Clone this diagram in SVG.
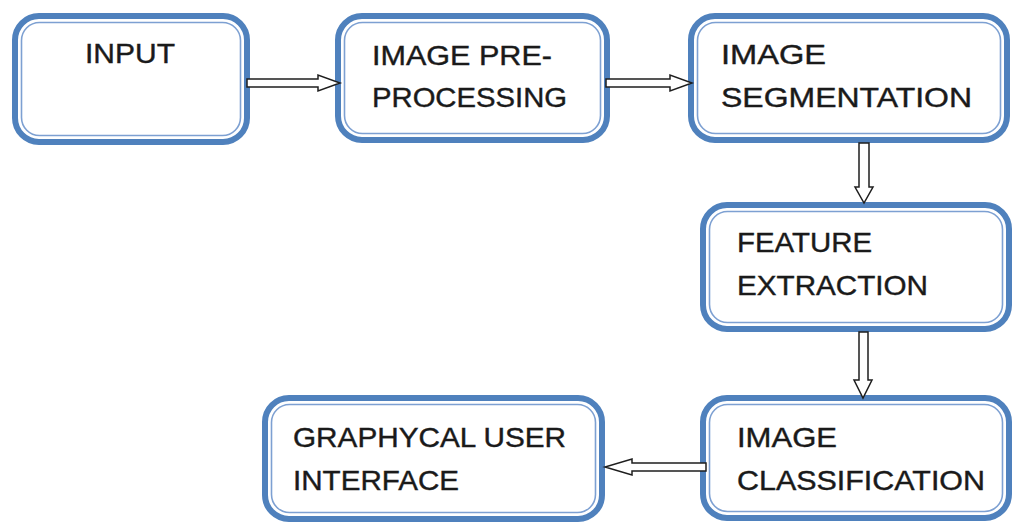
<svg xmlns="http://www.w3.org/2000/svg" width="1013" height="523" viewBox="0 0 1013 523">
<style>
.o{fill:#fff;stroke:#4f81bd;stroke-width:6}
.i{fill:none;stroke:#7da0d2;stroke-width:1.6}
.t{font-family:"Liberation Sans",Arial,sans-serif;font-size:28px;fill:#1a1a1a;stroke:#1a1a1a;stroke-width:0.4}
.a{fill:#fff;stroke:#1e1e1e;stroke-width:1.5;stroke-linejoin:miter}
</style>
<rect width="1013" height="523" fill="#fff"/>
<g id="input">
<rect class="o" x="15" y="16" width="232" height="126" rx="24"/>
<rect class="i" x="21.5" y="22.5" width="219" height="113" rx="18"/>
<text class="t" x="85" y="63" textLength="90" lengthAdjust="spacingAndGlyphs">INPUT</text>
</g>
<g id="preprocessing">
<rect class="o" x="338" y="16" width="269" height="124" rx="24"/>
<rect class="i" x="344.5" y="22.5" width="256" height="111" rx="18"/>
<text class="t" x="372" y="65" textLength="180" lengthAdjust="spacingAndGlyphs">IMAGE PRE-</text>
<text class="t" x="372" y="107" textLength="195" lengthAdjust="spacingAndGlyphs">PROCESSING</text>
</g>
<g id="segmentation">
<rect class="o" x="691" y="16" width="316" height="124" rx="24"/>
<rect class="i" x="697.5" y="22.5" width="303" height="111" rx="18"/>
<text class="t" x="721" y="64" textLength="105" lengthAdjust="spacingAndGlyphs">IMAGE</text>
<text class="t" x="721" y="107" textLength="251" lengthAdjust="spacingAndGlyphs">SEGMENTATION</text>
</g>
<g id="feature">
<rect class="o" x="703" y="205" width="306" height="124" rx="24"/>
<rect class="i" x="709.5" y="211.5" width="293" height="111" rx="18"/>
<text class="t" x="737" y="252" textLength="135" lengthAdjust="spacingAndGlyphs">FEATURE</text>
<text class="t" x="737" y="295" textLength="191" lengthAdjust="spacingAndGlyphs">EXTRACTION</text>
</g>
<g id="classification">
<rect class="o" x="703" y="398" width="306" height="120" rx="24"/>
<rect class="i" x="709.5" y="404.5" width="293" height="107" rx="18"/>
<text class="t" x="737" y="447" textLength="100" lengthAdjust="spacingAndGlyphs">IMAGE</text>
<text class="t" x="737" y="490" textLength="248" lengthAdjust="spacingAndGlyphs">CLASSIFICATION</text>
</g>
<g id="gui">
<rect class="o" x="265" y="398" width="337" height="121" rx="24"/>
<rect class="i" x="271.5" y="404.5" width="324" height="108" rx="18"/>
<text class="t" x="293" y="447" textLength="273" lengthAdjust="spacingAndGlyphs">GRAPHYCAL USER</text>
<text class="t" x="293" y="490" textLength="166" lengthAdjust="spacingAndGlyphs">INTERFACE</text>
</g>
<g id="connectors">
<polygon class="a" points="247,79 318,79 318,75 340,83 318,91 318,87 247,87"/>
<polygon class="a" points="606,79 670,79 670,75 692,83 670,91 670,87 606,87"/>
<polygon class="a" points="859,143 869,143 869,187 873,187 864,203 855,187 859,187"/>
<polygon class="a" points="859,332 868,332 868,380 872,380 863,398 854,380 859,380"/>
<polygon class="a" points="706,463 632,463 632,459 605,467 632,475 632,471 706,471"/>
</g>
</svg>
